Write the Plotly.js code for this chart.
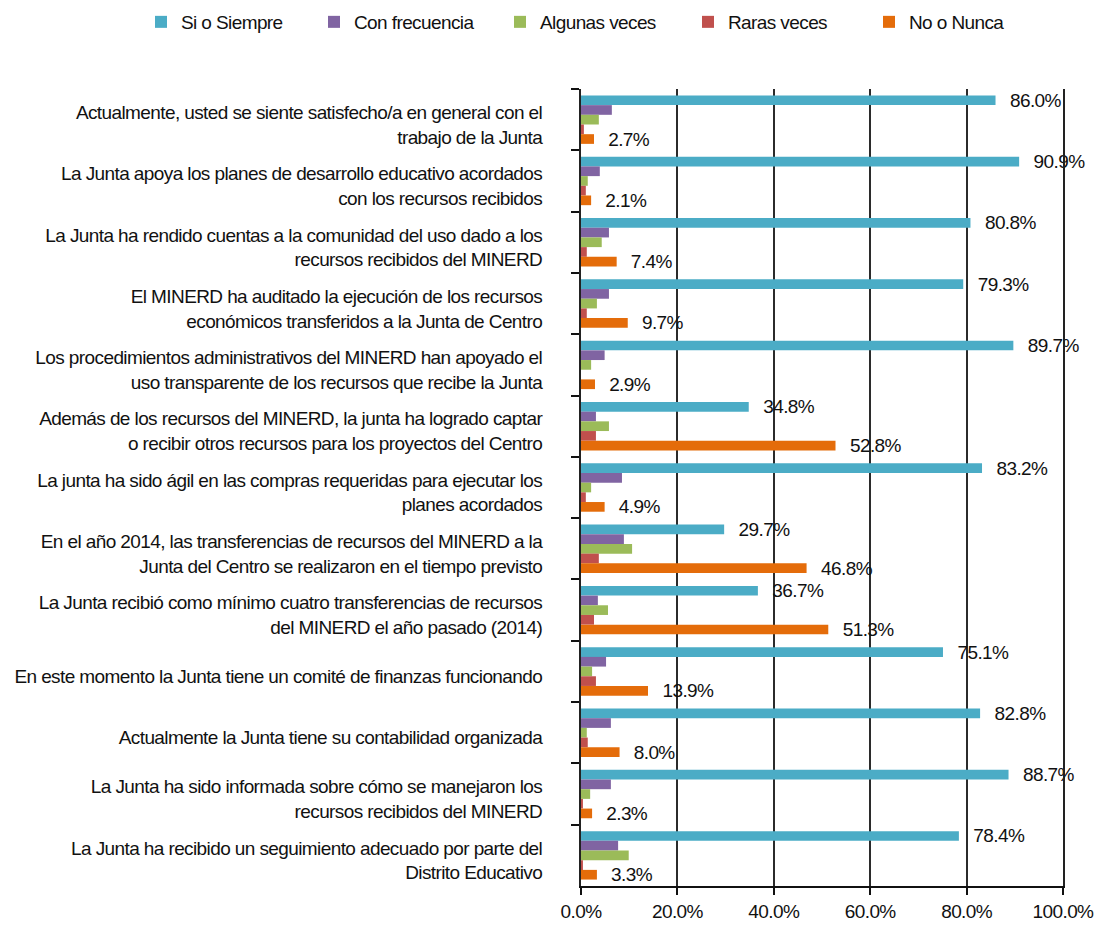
<!DOCTYPE html>
<html>
<head>
<meta charset="utf-8">
<script src="https://cdn.plot.ly/plotly-3.0.1.min.js"></script>
<style>html,body{margin:0;padding:0;background:#fff;}#chart{width:1094px;height:925px;}
#chart svg text{letter-spacing:-0.6px;}</style>
</head>
<body>
<div id="chart"></div>
<script>
const categories = [
  "Actualmente, usted se siente satisfecho/a en general con el<br>trabajo de la Junta",
  "La Junta apoya los planes de desarrollo educativo acordados<br>con los recursos recibidos",
  "La Junta ha rendido cuentas a la comunidad del uso dado a los<br>recursos recibidos del MINERD",
  "El MINERD ha auditado la ejecución de los recursos<br>económicos transferidos a la Junta de Centro",
  "Los procedimientos administrativos del MINERD han apoyado el<br>uso transparente de los recursos que recibe la Junta",
  "Además de los recursos del MINERD, la junta ha logrado captar<br>o recibir otros recursos para los proyectos del Centro",
  "La junta ha sido ágil en las compras requeridas para ejecutar los<br>planes acordados",
  "En el año 2014, las transferencias de recursos del MINERD a la<br>Junta del Centro se realizaron en el tiempo previsto",
  "La Junta recibió como mínimo cuatro transferencias de recursos<br>del MINERD el año pasado (2014)",
  "En este momento la Junta tiene un comité de finanzas funcionando",
  "Actualmente la Junta tiene su contabilidad organizada",
  "La Junta ha sido informada sobre cómo se manejaron los<br>recursos recibidos del MINERD",
  "La Junta ha recibido un seguimiento adecuado por parte del<br>Distrito Educativo"
];
const siSiempre      = [86.0, 90.9, 80.8, 79.3, 89.7, 34.8, 83.2, 29.7, 36.7, 75.1, 82.8, 88.7, 78.4];
const conFrecuencia  = [6.4, 3.9, 5.8, 5.8, 4.9, 3.1, 8.5, 8.9, 3.5, 5.2, 6.2, 6.2, 7.7];
const algunasVeces   = [3.7, 1.4, 4.3, 3.3, 2.1, 5.8, 2.1, 10.6, 5.6, 2.3, 1.2, 1.9, 9.9];
const rarasVeces     = [0.6, 1.0, 1.2, 1.2, 0.0, 3.1, 1.0, 3.7, 2.7, 3.1, 1.4, 0.4, 0.4];
const noNunca        = [2.7, 2.1, 7.4, 9.7, 2.9, 52.8, 4.9, 46.8, 51.3, 13.9, 8.0, 2.3, 3.3];
const seriesNames = ["Si o Siempre", "Con frecuencia", "Algunas veces", "Raras veces", "No o Nunca"];
const xTicks = [0, 20, 40, 60, 80, 100];

const colors = ["#4BACC6", "#8064A2", "#9BBB59", "#C0504D", "#E46C0A"];
const FONT = "Liberation Sans, Arial, sans-serif";
const FS = 19;
const allValues = [siSiempre, conFrecuencia, algunasVeces, rarasVeces, noNunca];
const labeled = [true, false, false, false, true];
// legend symbol centres (px) in the figure
const legendX = [163, 336, 522, 710, 891];

const traces = allValues.map((vals, i) => {
  const t = {
    type: "bar",
    orientation: "h",
    name: seriesNames[i],
    x: vals,
    y: categories,
    marker: {color: colors[i]},
    hoverinfo: "x+name",
    cliponaxis: false,
    legend: i === 0 ? "legend" : "legend" + (i + 1)
  };
  if (labeled[i]) {
    t.texttemplate = "\u00a0\u00a0%{x:.1f}%";
    t.textposition = "outside";
    t.constraintext = "none";
    t.textfont = {family: FONT, size: FS, color: "#111"};
  }
  return t;
});

const plotTop = 89, plotBottom = 39, W = 1094, H = 925;
const plotL = 581, plotR = 31;

const layout = {
  width: W,
  height: H,
  margin: {l: plotL, r: plotR, t: plotTop, b: plotBottom, autoexpand: false},
  barmode: "group",
  bargap: 0.21,
  bargroupgap: 0,
  font: {family: FONT, size: FS, color: "#111"},
  paper_bgcolor: "#fff",
  plot_bgcolor: "#fff",
  showlegend: true,
  xaxis: {
    range: [0, 100],
    tickvals: xTicks,
    ticktext: xTicks.map(v => v.toFixed(1) + "%"),
    ticklabeloverflow: "allow",
    showgrid: true,
    gridcolor: "#2b2b2b",
    gridwidth: 2,
    zeroline: false,
    showline: true,
    linecolor: "#111",
    linewidth: 2,
    ticks: "outside",
    ticklen: 7,
    tickwidth: 2,
    tickcolor: "#111",
    tickfont: {family: FONT, size: FS, color: "#111"},
    automargin: false,
    fixedrange: true
  },
  yaxis: {
    type: "category",
    autorange: "reversed",
    showgrid: false,
    showline: true,
    mirror: true,
    linecolor: "#222",
    linewidth: 2,
    ticks: "outside",
    tickson: "boundaries",
    ticklen: 8,
    tickwidth: 2,
    tickcolor: "#111",
    ticklabelstandoff: 33,
    ticklabelshift: -5,
    ticklabeloverflow: "allow",
    tickfont: {family: FONT, size: FS, color: "#111"},
    automargin: false,
    fixedrange: true
  }
};

legendX.forEach((cx, i) => {
  const key = i === 0 ? "legend" : "legend" + (i + 1);
  layout[key] = {
    orientation: "h",
    xref: "container",
    yref: "container",
    x: (cx - 22) / W,
    y: 1 - 22 / H,
    xanchor: "left",
    yanchor: "middle",
    bgcolor: "rgba(0,0,0,0)",
    font: {family: FONT, size: FS, color: "#111"}
  };
});

Plotly.newPlot("chart", traces, layout, {displayModeBar: false, staticPlot: true});
</script>
</body>
</html>
